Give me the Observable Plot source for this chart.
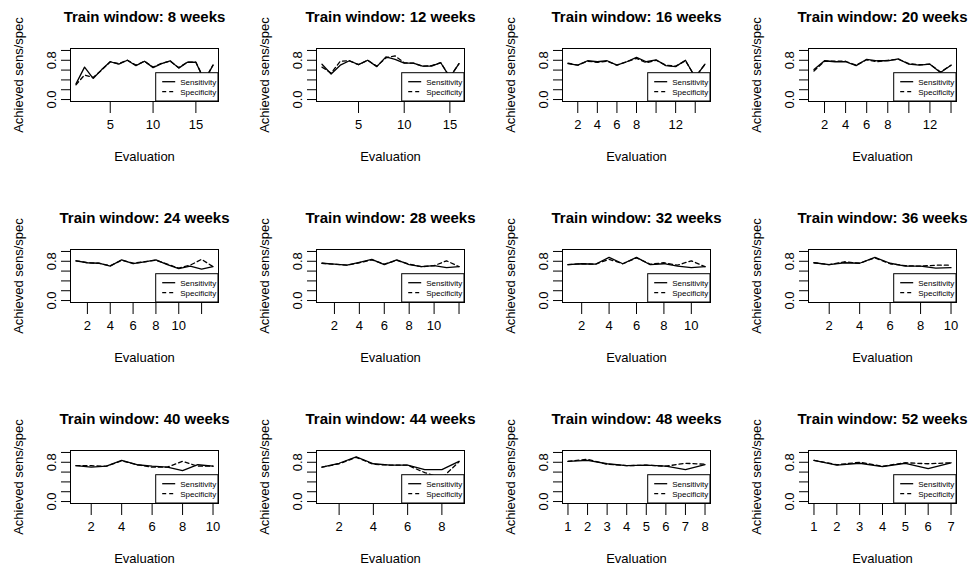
<!DOCTYPE html>
<html><head><meta charset="utf-8">
<script src="https://cdn.jsdelivr.net/npm/d3@7"></script>
<script src="https://cdn.jsdelivr.net/npm/@observablehq/plot@0.6"></script>
<style>
body{margin:0;background:#fff;}
#chart{position:relative;width:974px;height:572px;overflow:hidden;background:#fff;}
.panel{position:absolute;width:246px;height:201px;}
.panel svg{max-width:none !important;}
</style></head><body><div id="chart"></div>
<script>
const weeks = [8,12,16,20,24,28,32,36,40,44,48,52];

const sens8  = [0.32,0.66,0.43,0.61,0.77,0.72,0.80,0.69,0.78,0.65,0.73,0.79,0.64,0.76,0.76,0.38,0.70];
const spec8  = [0.30,0.50,0.45,0.60,0.77,0.73,0.80,0.70,0.78,0.66,0.74,0.78,0.65,0.76,0.76,0.40,0.70];
const sens12 = [0.72,0.52,0.70,0.79,0.71,0.80,0.67,0.87,0.82,0.74,0.74,0.68,0.68,0.75,0.45,0.73];
const spec12 = [0.66,0.54,0.78,0.79,0.71,0.80,0.68,0.85,0.89,0.75,0.74,0.68,0.69,0.75,0.46,0.73];
const sens16 = [0.73,0.70,0.79,0.77,0.79,0.70,0.77,0.86,0.77,0.81,0.69,0.67,0.80,0.45,0.72];
const spec16 = [0.74,0.70,0.78,0.76,0.78,0.70,0.77,0.84,0.75,0.80,0.70,0.68,0.79,0.46,0.72];
const sens20 = [0.61,0.79,0.77,0.77,0.69,0.82,0.79,0.79,0.83,0.72,0.70,0.72,0.55,0.70];
const spec20 = [0.58,0.78,0.78,0.78,0.70,0.81,0.77,0.80,0.82,0.73,0.71,0.72,0.56,0.70];
const sens24 = [0.81,0.77,0.76,0.70,0.83,0.75,0.79,0.83,0.73,0.65,0.70,0.64,0.69];
const spec24 = [0.81,0.77,0.76,0.71,0.82,0.76,0.79,0.82,0.74,0.66,0.72,0.84,0.69];
const sens28 = [0.76,0.74,0.72,0.78,0.84,0.73,0.83,0.73,0.69,0.71,0.67,0.69];
const spec28 = [0.76,0.74,0.72,0.77,0.83,0.74,0.82,0.74,0.69,0.71,0.81,0.69];
const sens32 = [0.73,0.75,0.74,0.88,0.75,0.88,0.73,0.75,0.70,0.67,0.69];
const spec32 = [0.73,0.75,0.74,0.84,0.75,0.87,0.74,0.77,0.72,0.81,0.69];
const sens36 = [0.77,0.73,0.77,0.76,0.88,0.76,0.70,0.70,0.66,0.67];
const spec36 = [0.77,0.73,0.79,0.76,0.87,0.75,0.71,0.70,0.72,0.72];
const sens40 = [0.73,0.70,0.72,0.84,0.75,0.72,0.70,0.63,0.75,0.72];
const spec40 = [0.73,0.73,0.72,0.83,0.75,0.70,0.70,0.82,0.72,0.72];
const sens44 = [0.70,0.78,0.91,0.77,0.74,0.74,0.65,0.65,0.82];
const spec44 = [0.70,0.77,0.90,0.76,0.74,0.74,0.59,0.48,0.81];
const sens48 = [0.82,0.84,0.77,0.73,0.74,0.72,0.65,0.75];
const spec48 = [0.82,0.86,0.76,0.73,0.74,0.72,0.78,0.76];
const sens52 = [0.84,0.74,0.78,0.71,0.78,0.67,0.79];
const spec52 = [0.84,0.75,0.80,0.72,0.79,0.77,0.79];

const sensList = [sens8,sens12,sens16,sens20,sens24,sens28,sens32,sens36,sens40,sens44,sens48,sens52];
const specList = [spec8,spec12,spec16,spec20,spec24,spec28,spec32,spec36,spec40,spec44,spec48,spec52];

// x tick positions and their printed labels ("" where the label is dropped)
const xTicks = [
  [5,10,15],[5,10,15],[2,4,6,8,10,12,14],[2,4,6,8,10,12,14],
  [2,4,6,8,10,12],[2,4,6,8,10,12],[2,4,6,8,10],[2,4,6,8,10],
  [2,4,6,8,10],[2,4,6,8],[1,2,3,4,5,6,7,8],[1,2,3,4,5,6,7]
];
const xTickLabels = [
  ["5","10","15"],["5","10","15"],["2","4","6","8","","12",""],["2","4","6","8","","12",""],
  ["2","4","6","8","10",""],["2","4","6","8","10",""],["2","4","6","8","10"],["2","4","6","8","10"],
  ["2","4","6","8","10"],["2","4","6","8"],["1","2","3","4","5","6","7","8"],["1","2","3","4","5","6","7"]
];
const yTicks = [0,0.2,0.4,0.6,0.8,1.0];
const yTickLabels = [0,0.8];
const legendLabels = ["Sensitivity","Specificity"];

const FONT = "'Liberation Sans', Arial, Helvetica, sans-serif";
const W = 246, H = 201, ML = 70, MR = 28, MT = 48, MB = 100;
const root = document.getElementById("chart");

weeks.forEach((w, i) => {
  const c = i % 4, r = Math.floor(i / 4);
  const sens = sensList[i], spec = specList[i];
  const n = sens.length;
  const pad = 0.04 * (n - 1);
  const data = sens.map((v, k) => ({x: k + 1, s: v, p: spec[k]}));
  const ticks = xTicks[i], labs = xTickLabels[i];
  const plot = Plot.plot({
    width: W, height: H,
    marginLeft: ML, marginRight: MR, marginTop: MT, marginBottom: MB,
    style: {fontFamily: FONT, fontSize: "13px", background: "transparent", overflow: "visible", color: "#000"},
    x: {domain: [1 - pad, n + pad]},
    y: {domain: [-0.04, 1.04]},
    marks: [
      Plot.line(data, {x: "x", y: "s", stroke: "#000", strokeWidth: 1.3}),
      Plot.line(data, {x: "x", y: "p", stroke: "#000", strokeWidth: 1.3, strokeDasharray: "4,3"}),
      Plot.frame({stroke: "#000", strokeWidth: 1}),
      Plot.axisX({ticks: ticks, tickSize: 12, tickPadding: 6, tickFormat: d => labs[ticks.indexOf(d)], label: null, fontSize: 13}),
      Plot.axisY({ticks: yTicks, tickSize: 9, tickFormat: () => "", label: null}),
      Plot.text(yTickLabels, {x: 1 - pad, y: d => d, text: d => d.toFixed(1), rotate: -90, dx: -19, textAnchor: "middle", lineAnchor: "middle", fontSize: 13}),
      Plot.text([`Train window: ${w} weeks`], {text: d => d, frameAnchor: "top", dy: -27, textAnchor: "middle", lineAnchor: "bottom", fontWeight: "bold", fontSize: 15}),
      Plot.text(["Evaluation"], {text: d => d, frameAnchor: "bottom", dy: 59, textAnchor: "middle", lineAnchor: "bottom", fontSize: 13}),
      Plot.text(["Achieved sens/spec"], {text: d => d, frameAnchor: "left", dx: -52, rotate: -90, textAnchor: "middle", lineAnchor: "middle", fontSize: 13})
    ]
  });
  // legend (bottom-right, inside the box)
  const svg = d3.select(plot);
  const g = svg.append("g").attr("text-anchor", "start");
  const lx = 155.7, lr = W - MR, ly = 72.7, lb = H - MB;
  g.append("rect").attr("x", lx).attr("y", ly).attr("width", lr - lx).attr("height", lb - ly)
    .attr("fill", "#fff").attr("stroke", "#000").attr("stroke-width", 1);
  legendLabels.forEach((lab, k) => {
    const yy = ly + 9 + k * 10;
    g.append("line").attr("x1", lx + 6.5).attr("x2", lx + 19.5).attr("y1", yy).attr("y2", yy)
      .attr("stroke", "#000").attr("stroke-width", 1.3).attr("stroke-dasharray", k ? "4,3" : null);
    g.append("text").attr("x", lx + 24.5).attr("y", yy + 3).attr("font-size", 8)
      .attr("text-anchor", "start")
      .attr("font-family", FONT).attr("fill", "#000").text(lab);
  });
  const div = document.createElement("div");
  div.className = "panel";
  div.style.left = (c * W) + "px";
  div.style.top = (r * 201) + "px";
  div.appendChild(plot);
  root.appendChild(div);
});
</script></body></html>
